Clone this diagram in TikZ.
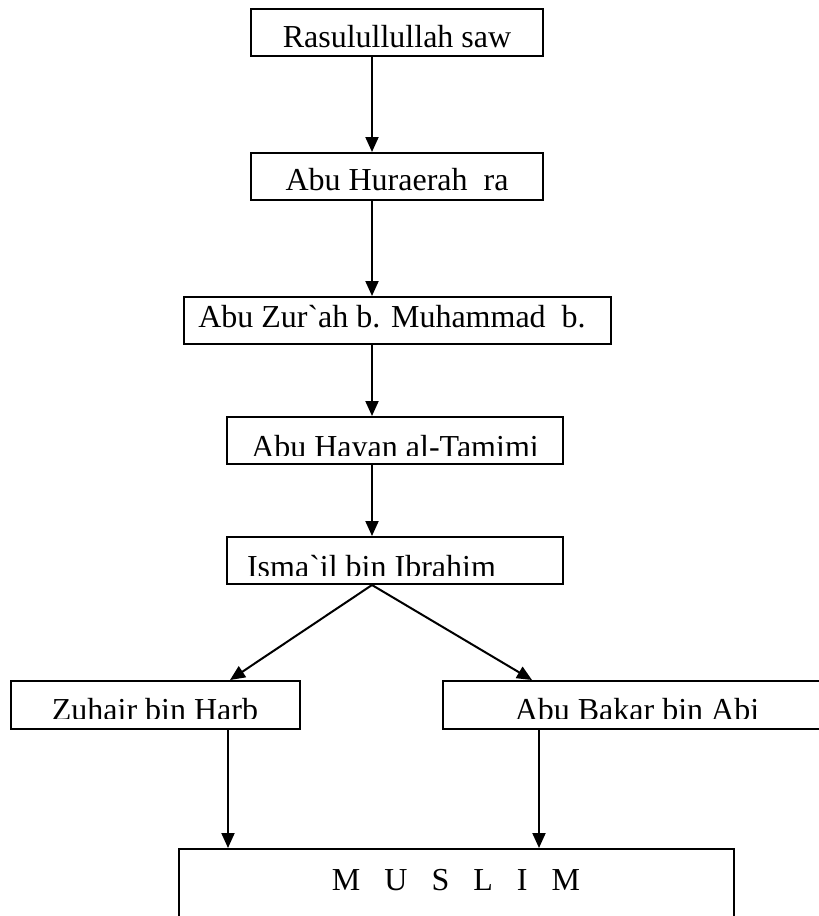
\documentclass[tikz,border=0pt]{standalone}
\usepackage{fontspec}
\setmainfont{Liberation Serif}
\usetikzlibrary{arrows.meta}
\tikzset{
  box/.style={draw, line width=1pt, inner sep=0pt},
  nametext/.style={anchor=base, inner sep=0pt, font=\fontsize{16}{19}\selectfont},
  link/.style={line width=1pt, -{Triangle[length=7.5pt, width=6.5pt]}}
}
\begin{document}
\begin{tikzpicture}[x=0.5pt, y=-0.5pt]
\useasboundingbox (0,0) rectangle (819,916);
\clip (0,0) rectangle (819,916);
% boxes of the chain
\node[box, minimum width=146pt, minimum height=23.5pt] (rasul) at (397,32.5) {};
\node[box, minimum width=146pt, minimum height=23.5pt] (huraerah) at (397,176.5) {};
\node[box, minimum width=213.5pt, minimum height=23.5pt] (zurah) at (397.5,320.5) {};
\node[box, minimum width=168pt, minimum height=23.5pt] (hayan) at (395,440.5) {};
\node[box, minimum width=168pt, minimum height=23.5pt] (ismail) at (395,560.5) {};
\node[box, minimum width=144.5pt, minimum height=24pt] (zuhair) at (155.5,705) {};
\node[box, minimum width=194pt, minimum height=24pt] (bakar) at (637,705) {};
\node[box, minimum width=277.5pt, minimum height=55pt] (muslim) at (456.5,904) {};
% texts
\node[nametext] (trasul) at (397,47) {Rasulullullah saw};
\node[nametext] (thuraerah) at (397,190) {Abu Huraerah\ \ ra};
\node[nametext] (tzurah) at (392,327) {Abu Zur\textasciigrave ah b. Muhammad\ \ b.};
\begin{scope}
  \clip (227,417) rectangle (563,455);
  \node[nametext] (thayan) at (395,457) {Abu Hayan al-Tamimi};
\end{scope}
\begin{scope}
  \clip (227,537) rectangle (563,575);
  \node[nametext] (tismail) at (371.5,577) {Isma\textasciigrave il bin Ibrahim};
\end{scope}
\begin{scope}
  \clip (11,681) rectangle (300,718);
  \node[nametext] (tzuhair) at (155,720) {Zuhair bin Harb};
\end{scope}
\begin{scope}
  \clip (443,681) rectangle (819,718);
  \node[nametext] (tbakar) at (637,720) {Abu Bakar bin Abi};
\end{scope}
\node[nametext] (tmuslim) at (456,890) {M~~~U~~~S~~~L~~~I~~~M};
% connectors
\coordinate (spine) at (372,0);
\coordinate (lefttip) at (230,0);
\coordinate (righttip) at (532,0);
\coordinate (leftdrop) at (228,0);
\coordinate (rightdrop) at (539,0);
\draw[link] (rasul.south -| spine) -- (huraerah.north -| spine);
\draw[link] (huraerah.south -| spine) -- (zurah.north -| spine);
\draw[link] (zurah.south -| spine) -- (hayan.north -| spine);
\draw[link] (hayan.south -| spine) -- (ismail.north -| spine);
\draw[link] (ismail.south -| spine) -- (zuhair.north -| lefttip);
\draw[link] (ismail.south -| spine) -- (bakar.north -| righttip);
\draw[link] (zuhair.south -| leftdrop) -- (muslim.north -| leftdrop);
\draw[link] (bakar.south -| rightdrop) -- (muslim.north -| rightdrop);
\end{tikzpicture}
\end{document}
